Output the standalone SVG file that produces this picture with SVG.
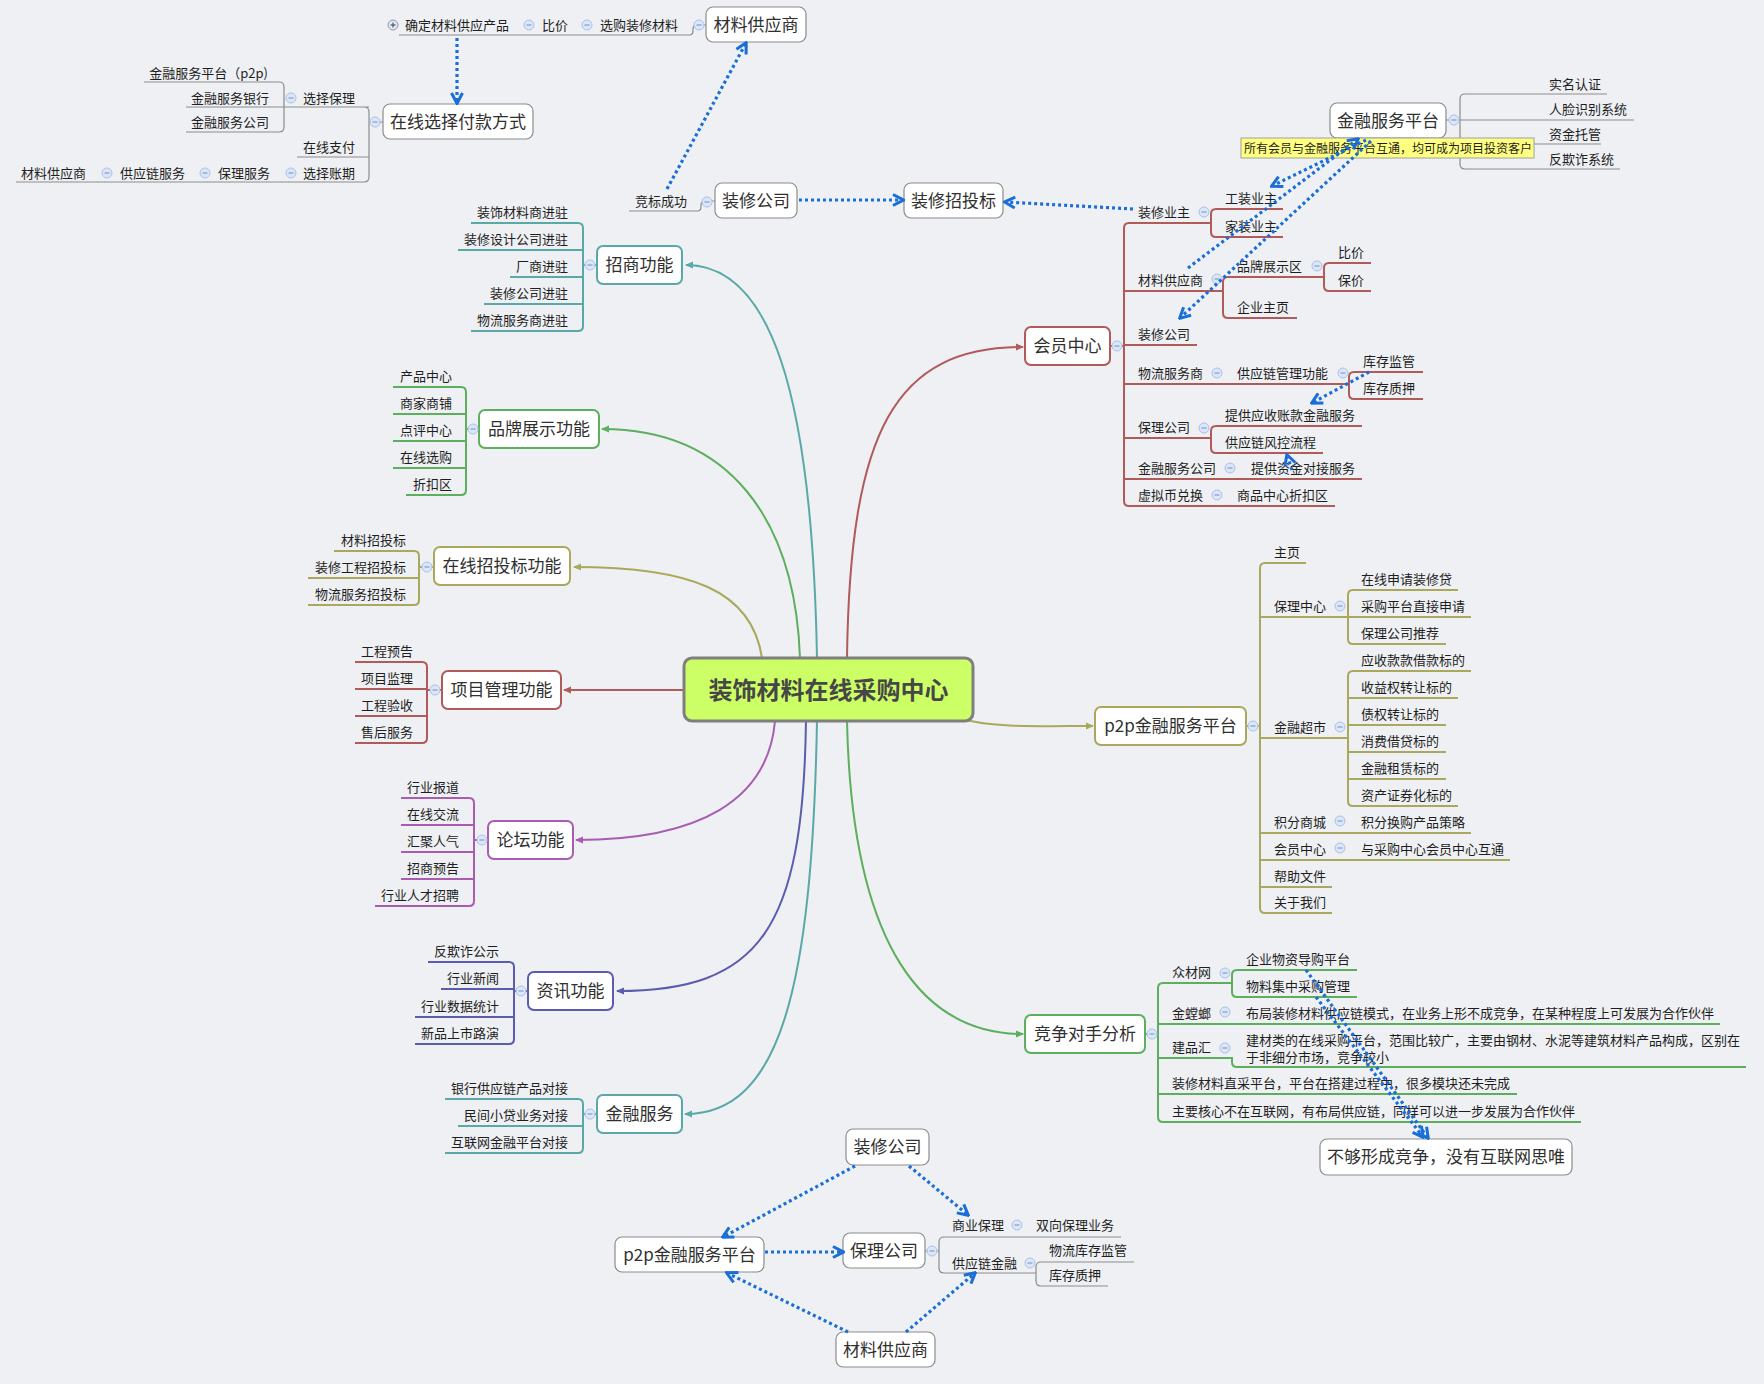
<svg xmlns="http://www.w3.org/2000/svg" width="1764" height="1384" viewBox="0 0 1764 1384">
<defs>
<style>
text{font-family:"Noto Sans CJK SC","Noto Sans",sans-serif;fill:#1e1e1e}
.s{font-size:13px}
.m{font-size:17px;fill:#303030}
.e{text-anchor:end}
.mid{text-anchor:middle}
.c{font-size:24px;font-weight:bold;fill:#474747}
.bx{fill:#fff;stroke-width:2}
.gb{fill:#fff;stroke:#8c8c8c;stroke-width:1.2}
.ln{fill:none;stroke-width:2}
.gl{fill:none;stroke:#8c8c8c;stroke-width:1.2}
.teal{stroke:#5aa9a7}.green{stroke:#5dae5d}.olive{stroke:#aaa85c}.red{stroke:#b05a5a}.purple{stroke:#a85db3}.blue{stroke:#5b5cae}
.dot{fill:none;stroke:#1a6ed8;stroke-width:3.2;stroke-dasharray:3 3;marker-end:url(#ad)}
</style>
<marker id="ad" markerUnits="userSpaceOnUse" markerWidth="14" markerHeight="14" viewBox="0 0 14 14" refX="12" refY="7" orient="auto"><path d="M2,1.5 L12.5,7 L2,12.5" fill="none" stroke="#1a6ed8" stroke-width="3"/></marker>
<marker id="mt" markerUnits="userSpaceOnUse" markerWidth="8" markerHeight="8" viewBox="0 0 8 8" refX="7" refY="4" orient="auto"><path d="M0,0.5 L8,4 L0,7.5z" fill="#5aa9a7"/></marker>
<marker id="mg" markerUnits="userSpaceOnUse" markerWidth="8" markerHeight="8" viewBox="0 0 8 8" refX="7" refY="4" orient="auto"><path d="M0,0.5 L8,4 L0,7.5z" fill="#5dae5d"/></marker>
<marker id="mo" markerUnits="userSpaceOnUse" markerWidth="8" markerHeight="8" viewBox="0 0 8 8" refX="7" refY="4" orient="auto"><path d="M0,0.5 L8,4 L0,7.5z" fill="#aaa85c"/></marker>
<marker id="mr" markerUnits="userSpaceOnUse" markerWidth="8" markerHeight="8" viewBox="0 0 8 8" refX="7" refY="4" orient="auto"><path d="M0,0.5 L8,4 L0,7.5z" fill="#b05a5a"/></marker>
<marker id="mp" markerUnits="userSpaceOnUse" markerWidth="8" markerHeight="8" viewBox="0 0 8 8" refX="7" refY="4" orient="auto"><path d="M0,0.5 L8,4 L0,7.5z" fill="#a85db3"/></marker>
<marker id="mb" markerUnits="userSpaceOnUse" markerWidth="8" markerHeight="8" viewBox="0 0 8 8" refX="7" refY="4" orient="auto"><path d="M0,0.5 L8,4 L0,7.5z" fill="#5b5cae"/></marker>
<g id="mi"><circle r="5" fill="#dce6f7" stroke="#a9c1e7" stroke-width="1"/><line x1="-2.5" y1="0" x2="2.5" y2="0" stroke="#7f9fd2" stroke-width="1.2"/></g>
<g id="pl"><circle r="5" fill="#e4e8f0" stroke="#8e9ab0" stroke-width="1"/><line x1="-2.5" y1="0" x2="2.5" y2="0" stroke="#4a5670" stroke-width="1.2"/><line x1="0" y1="-2.5" x2="0" y2="2.5" stroke="#4a5670" stroke-width="1.2"/></g>
</defs>
<rect width="1764" height="1384" fill="#eef0f3"/>

<g id="connectors">
<path class="ln teal" d="M817,658 C812,390 770,265 686,265" marker-end="url(#mt)"/>
<path class="ln green" d="M800,658 C795,520 730,429 602,429" marker-end="url(#mg)"/>
<path class="ln olive" d="M762,658 C752,590 690,567 574,567" marker-end="url(#mo)"/>
<path class="ln red" d="M684,690 L564,690" marker-end="url(#mr)"/>
<path class="ln red" d="M847,658 C850,430 895,347 1023,347" marker-end="url(#mr)"/>
<path class="ln olive" d="M962,719 C995,728 1040,726 1093,726" marker-end="url(#mo)"/>
<path class="ln purple" d="M775,721 C768,800 700,840 576,840" marker-end="url(#mp)"/>
<path class="ln blue" d="M806,721 C803,930 760,991 617,991" marker-end="url(#mb)"/>
<path class="ln teal" d="M817,721 C812,990 780,1114 685,1114" marker-end="url(#mt)"/>
<path class="ln green" d="M847,721 C852,950 925,1034 1023,1034" marker-end="url(#mg)"/>

<path class="ln teal" d="M471,223 L578,223 Q583,223 583,228 L583,326 Q583,331 578,331 L471,331 M583,250 L458,250 M583,277 L510,277 M583,304 L484,304 M597,265 L583,265"/>
<path class="ln green" d="M393,387 L461,387 Q466,387 466,392 L466,490 Q466,495 461,495 L406,495 M466,414 L393,414 M466,441 L393,441 M466,468 L393,468 M479,429 L466,429"/>
<path class="ln olive" d="M334,551 L414,551 Q419,551 419,556 L419,600 Q419,605 414,605 L308,605 M419,578 L308,578 M434,567 L419,567"/>
<path class="ln red" d="M355,662 L422,662 Q427,662 427,667 L427,738 Q427,743 422,743 L355,743 M427,689 L355,689 M427,716 L355,716 M442,690 L427,690"/>
<path class="ln purple" d="M401,798 L469,798 Q474,798 474,803 L474,901 Q474,906 469,906 L375,906 M474,825 L401,825 M474,852 L401,852 M474,879 L401,879 M488,840 L474,840"/>
<path class="ln blue" d="M428,962 L509,962 Q514,962 514,967 L514,1039 Q514,1044 509,1044 L415,1044 M514,989 L441,989 M514,1017 L415,1017 M528,991 L514,991"/>
<path class="ln teal" d="M445,1099 L578,1099 Q583,1099 583,1104 L583,1148 Q583,1153 578,1153 L445,1153 M583,1126 L458,1126 M597,1114 L583,1114"/>

<path class="ln red" d="M1211,223 L1129,223 Q1124,223 1124,228 L1124,501 Q1124,506 1129,506 L1335,506 M1124,291 L1223,291 M1124,345 L1197,345 M1124,384 L1349,384 M1124,438 L1211,438 M1124,479 L1362,479 M1110,346 L1124,346"/>
<path class="ln red" d="M1283,209 L1216,209 Q1211,209 1211,214 L1211,232 Q1211,237 1216,237 L1283,237"/>
<path class="ln red" d="M1324,277 L1228,277 Q1223,277 1223,282 L1223,313 Q1223,318 1228,318 L1297,318"/>
<path class="ln red" d="M1371,263 L1329,263 Q1324,263 1324,268 L1324,286 Q1324,291 1329,291 L1371,291"/>
<path class="ln red" d="M1423,372 L1354,372 Q1349,372 1349,377 L1349,394 Q1349,399 1354,399 L1423,399"/>
<path class="ln red" d="M1362,426 L1216,426 Q1211,426 1211,431 L1211,448 Q1211,453 1216,453 L1323,453"/>

<path class="ln olive" d="M1306,563 L1265,563 Q1260,563 1260,568 L1260,908 Q1260,913 1265,913 L1332,913 M1260,617 L1348,617 M1260,738 L1348,738 M1260,833 L1471,833 M1260,860 L1510,860 M1260,887 L1332,887 M1246,726 L1260,726"/>
<path class="ln olive" d="M1458,590 L1353,590 Q1348,590 1348,595 L1348,639 Q1348,644 1353,644 L1446,644 M1348,617 L1471,617"/>
<path class="ln olive" d="M1471,671 L1353,671 Q1348,671 1348,676 L1348,801 Q1348,806 1353,806 L1458,806 M1348,698 L1458,698 M1348,725 L1446,725 M1348,752 L1446,752 M1348,779 L1446,779"/>

<path class="ln green" d="M1232,983 L1163,983 Q1158,983 1158,988 L1158,1117 Q1158,1122 1163,1122 L1581,1122 M1158,1024 L1720,1024 M1158,1058 L1232,1058 L1232,1062 Q1232,1067 1237,1067 L1746,1067 M1158,1094 L1517,1094 M1145,1034 L1158,1034"/>
<path class="ln green" d="M1357,970 L1237,970 Q1232,970 1232,975 L1232,992 Q1232,997 1237,997 L1357,997"/>

<path class="gl" d="M383,122 L369,122 M364,107 Q369,107 369,112 L369,177 Q369,182 364,182 L16,182 M369,157 L297,157 M369,107 L186,107"/>
<path class="gl" d="M144,82 L279,82 Q284,82 284,87 L284,127 Q284,132 279,132 L186,132"/>
<path class="gl" d="M706,25 L697,25 Q693,25 693,29 L693,31 Q693,35 689,35 L399,35"/>
<path class="gl" d="M715,201 L705,201 Q701,201 701,205 L701,207 Q701,211 697,211 L629,211"/>
<path class="gl" d="M1446,120 L1634,120 M1607,94 L1465,94 Q1460,94 1460,99 L1460,164 Q1460,169 1465,169 L1620,169 M1460,144 L1601,144"/>
<path class="gl" d="M925,1251 L939,1251 M1121,1237 L944,1237 Q939,1237 939,1242 L939,1268 Q939,1273 944,1273 L1036,1273"/>
<path class="gl" d="M1134,1262 L1041,1262 Q1036,1262 1036,1267 L1036,1281 Q1036,1286 1041,1286 L1108,1286"/>
</g>

<g id="central"><rect x="684" y="658" width="289" height="63" rx="8" fill="#ccff66" stroke="#7f7f7f" stroke-width="3"/><text class="c mid" x="828.5" y="699">装饰材料在线采购中心</text></g>

<g id="zhaoshang"><rect class="bx teal" x="597" y="246" width="85" height="38" rx="6"/><text class="m mid" x="639.5" y="271">招商功能</text></g>
<g id="zs1"><text class="s e" x="568" y="217">装饰材料商进驻</text></g>
<g id="zs2"><text class="s e" x="568" y="244">装修设计公司进驻</text></g>
<g id="zs3"><text class="s e" x="568" y="271">厂商进驻</text></g>
<g id="zs4"><text class="s e" x="568" y="298">装修公司进驻</text></g>
<g id="zs5"><text class="s e" x="568" y="325">物流服务商进驻</text></g>

<g id="pinpai"><rect class="bx green" x="479" y="410" width="120" height="38" rx="6"/><text class="m mid" x="539" y="435">品牌展示功能</text></g>
<g id="pp1"><text class="s e" x="452" y="381">产品中心</text></g>
<g id="pp2"><text class="s e" x="452" y="408">商家商铺</text></g>
<g id="pp3"><text class="s e" x="452" y="435">点评中心</text></g>
<g id="pp4"><text class="s e" x="452" y="462">在线选购</text></g>
<g id="pp5"><text class="s e" x="452" y="489">折扣区</text></g>

<g id="zhaotoubiao"><rect class="bx olive" x="434" y="547" width="136" height="38" rx="6"/><text class="m mid" x="502" y="572">在线招投标功能</text></g>
<g id="zt1"><text class="s e" x="406" y="545">材料招投标</text></g>
<g id="zt2"><text class="s e" x="406" y="572">装修工程招投标</text></g>
<g id="zt3"><text class="s e" x="406" y="599">物流服务招投标</text></g>

<g id="xiangmu"><rect class="bx red" x="442" y="671" width="119" height="38" rx="6"/><text class="m mid" x="501.5" y="696">项目管理功能</text></g>
<g id="xm1"><text class="s e" x="413" y="656">工程预告</text></g>
<g id="xm2"><text class="s e" x="413" y="683">项目监理</text></g>
<g id="xm3"><text class="s e" x="413" y="710">工程验收</text></g>
<g id="xm4"><text class="s e" x="413" y="737">售后服务</text></g>

<g id="luntan"><rect class="bx purple" x="488" y="821" width="85" height="38" rx="6"/><text class="m mid" x="530.5" y="846">论坛功能</text></g>
<g id="lt1"><text class="s e" x="459" y="792">行业报道</text></g>
<g id="lt2"><text class="s e" x="459" y="819">在线交流</text></g>
<g id="lt3"><text class="s e" x="459" y="846">汇聚人气</text></g>
<g id="lt4"><text class="s e" x="459" y="873">招商预告</text></g>
<g id="lt5"><text class="s e" x="459" y="900">行业人才招聘</text></g>

<g id="zixun"><rect class="bx blue" x="528" y="972" width="85" height="38" rx="6"/><text class="m mid" x="570.5" y="997">资讯功能</text></g>
<g id="zx1"><text class="s e" x="499" y="956">反欺诈公示</text></g>
<g id="zx2"><text class="s e" x="499" y="983">行业新闻</text></g>
<g id="zx3"><text class="s e" x="499" y="1011">行业数据统计</text></g>
<g id="zx4"><text class="s e" x="499" y="1038">新品上市路演</text></g>

<g id="jinrongfuwu"><rect class="bx teal" x="597" y="1095" width="85" height="38" rx="6"/><text class="m mid" x="639.5" y="1120">金融服务</text></g>
<g id="jr1"><text class="s e" x="568" y="1093">银行供应链产品对接</text></g>
<g id="jr2"><text class="s e" x="568" y="1120">民间小贷业务对接</text></g>
<g id="jr3"><text class="s e" x="568" y="1147">互联网金融平台对接</text></g>

<g id="huiyuan"><rect class="bx red" x="1025" y="327" width="85" height="38" rx="6"/><text class="m mid" x="1067.5" y="352">会员中心</text></g>
<g id="hy1"><text class="s" x="1138" y="217">装修业主</text></g>
<g id="hy1a"><text class="s" x="1225" y="203">工装业主</text></g>
<g id="hy1b"><text class="s" x="1225" y="231">家装业主</text></g>
<g id="hy2"><text class="s" x="1138" y="285">材料供应商</text></g>
<g id="hy2a"><text class="s" x="1237" y="271">品牌展示区</text></g>
<g id="hy2a1"><text class="s" x="1338" y="257">比价</text></g>
<g id="hy2a2"><text class="s" x="1338" y="285">保价</text></g>
<g id="hy2b"><text class="s" x="1237" y="312">企业主页</text></g>
<g id="hy3"><text class="s" x="1138" y="339">装修公司</text></g>
<g id="hy4"><text class="s" x="1138" y="378">物流服务商</text></g>
<g id="hy4a"><text class="s" x="1237" y="378">供应链管理功能</text></g>
<g id="hy4a1"><text class="s" x="1363" y="366">库存监管</text></g>
<g id="hy4a2"><text class="s" x="1363" y="393">库存质押</text></g>
<g id="hy5"><text class="s" x="1138" y="432">保理公司</text></g>
<g id="hy5a"><text class="s" x="1225" y="420">提供应收账款金融服务</text></g>
<g id="hy5b"><text class="s" x="1225" y="447">供应链风控流程</text></g>
<g id="hy6"><text class="s" x="1138" y="473">金融服务公司</text></g>
<g id="hy6a"><text class="s" x="1251" y="473">提供资金对接服务</text></g>
<g id="hy7"><text class="s" x="1138" y="500">虚拟币兑换</text></g>
<g id="hy7a"><text class="s" x="1237" y="500">商品中心折扣区</text></g>

<g id="p2p"><rect class="bx olive" x="1095" y="707" width="151" height="38" rx="6"/><text class="m mid" x="1170.5" y="732">p2p金融服务平台</text></g>
<g id="pa1"><text class="s" x="1274" y="557">主页</text></g>
<g id="pa2"><text class="s" x="1274" y="611">保理中心</text></g>
<g id="pa2a"><text class="s" x="1361" y="584">在线申请装修贷</text></g>
<g id="pa2b"><text class="s" x="1361" y="611">采购平台直接申请</text></g>
<g id="pa2c"><text class="s" x="1361" y="638">保理公司推荐</text></g>
<g id="pa3"><text class="s" x="1274" y="732">金融超市</text></g>
<g id="pa3a"><text class="s" x="1361" y="665">应收款款借款标的</text></g>
<g id="pa3b"><text class="s" x="1361" y="692">收益权转让标的</text></g>
<g id="pa3c"><text class="s" x="1361" y="719">债权转让标的</text></g>
<g id="pa3d"><text class="s" x="1361" y="746">消费借贷标的</text></g>
<g id="pa3e"><text class="s" x="1361" y="773">金融租赁标的</text></g>
<g id="pa3f"><text class="s" x="1361" y="800">资产证券化标的</text></g>
<g id="pa4"><text class="s" x="1274" y="827">积分商城</text></g>
<g id="pa4a"><text class="s" x="1361" y="827">积分换购产品策略</text></g>
<g id="pa5"><text class="s" x="1274" y="854">会员中心</text></g>
<g id="pa5a"><text class="s" x="1361" y="854">与采购中心会员中心互通</text></g>
<g id="pa6"><text class="s" x="1274" y="881">帮助文件</text></g>
<g id="pa7"><text class="s" x="1274" y="907">关于我们</text></g>

<g id="jingzheng"><rect class="bx green" x="1025" y="1015" width="120" height="38" rx="6"/><text class="m mid" x="1085" y="1040">竞争对手分析</text></g>
<g id="jz1"><text class="s" x="1172" y="977">众材网</text></g>
<g id="jz1a"><text class="s" x="1246" y="964">企业物资导购平台</text></g>
<g id="jz1b"><text class="s" x="1246" y="991">物料集中采购管理</text></g>
<g id="jz2"><text class="s" x="1172" y="1018">金螳螂</text></g>
<g id="jz2a"><text class="s" x="1246" y="1018">布局装修材料供应链模式，在业务上形不成竞争，在某种程度上可发展为合作伙伴</text></g>
<g id="jz3"><text class="s" x="1172" y="1052">建品汇</text></g>
<g id="jz3a"><text class="s" x="1246" y="1045">建材类的在线采购平台，范围比较广，主要由钢材、水泥等建筑材料产品构成，区别在</text><text class="s" x="1246" y="1062">于非细分市场，竞争较小</text></g>
<g id="jz4"><text class="s" x="1172" y="1088">装修材料直采平台，平台在搭建过程中，很多模块还未完成</text></g>
<g id="jz5"><text class="s" x="1172" y="1116">主要核心不在互联网，有布局供应链，同样可以进一步发展为合作伙伴</text></g>
<g id="bugou"><rect class="gb" x="1320" y="1139" width="252" height="36" rx="7"/><text class="m mid" x="1446" y="1163">不够形成竞争，没有互联网思唯</text></g>

<g id="fukuan"><rect class="gb" x="383" y="104" width="150" height="35" rx="7"/><text class="m mid" x="458" y="128">在线选择付款方式</text></g>
<g id="fk1"><text class="s" x="303" y="103">选择保理</text></g>
<g id="fk1a"><text class="s e" x="268" y="78">金融服务平台（p2p)</text></g>
<g id="fk1b"><text class="s e" x="269" y="103">金融服务银行</text></g>
<g id="fk1c"><text class="s e" x="269" y="127">金融服务公司</text></g>
<g id="fk2"><text class="s" x="303" y="152">在线支付</text></g>
<g id="fk3"><text class="s" x="303" y="178">选择账期</text></g>
<g id="fk3a"><text class="s" x="218" y="178">保理服务</text></g>
<g id="fk3b"><text class="s" x="120" y="178">供应链服务</text></g>
<g id="fk3c"><text class="s" x="21" y="178">材料供应商</text></g>

<g id="gongying-top"><rect class="gb" x="706" y="7" width="100" height="35" rx="7"/><text class="m mid" x="756" y="31">材料供应商</text></g>
<g id="gy1"><text class="s" x="600" y="30">选购装修材料</text></g>
<g id="gy2"><text class="s" x="542" y="30">比价</text></g>
<g id="gy3"><text class="s" x="405" y="30">确定材料供应产品</text></g>

<g id="zhuangxiu-top"><rect class="gb" x="715" y="183" width="82" height="35" rx="7"/><text class="m mid" x="756" y="207">装修公司</text></g>
<g id="zx-win"><text class="s" x="635" y="206">竞标成功</text></g>
<g id="zhaobiao"><rect class="gb" x="904" y="183" width="99" height="35" rx="7"/><text class="m mid" x="953.5" y="207">装修招投标</text></g>

<g id="jinrongpt"><rect class="gb" x="1330" y="103" width="116" height="35" rx="7"/><text class="m mid" x="1388" y="127">金融服务平台</text></g>
<g id="jp1"><text class="s" x="1549" y="89">实名认证</text></g>
<g id="jp2"><text class="s" x="1549" y="114">人脸识别系统</text></g>
<g id="jp3"><text class="s" x="1549" y="139">资金托管</text></g>
<g id="jp4"><text class="s" x="1549" y="164">反欺诈系统</text></g>
<g id="callout"><rect x="1241" y="138" width="293" height="20" fill="#ffff80" stroke="#a0a0a0" stroke-width="1"/><text x="1244" y="153" style="font-size:12px">所有会员与金融服务平台互通，均可成为项目投资客户</text></g>

<g id="b-zhuangxiu"><rect class="gb" x="846" y="1129" width="83" height="36" rx="7"/><text class="m mid" x="887.5" y="1153">装修公司</text></g>
<g id="b-p2p"><rect class="gb" x="615" y="1237" width="149" height="35" rx="7"/><text class="m mid" x="689.5" y="1261">p2p金融服务平台</text></g>
<g id="b-baoli"><rect class="gb" x="843" y="1233" width="82" height="35" rx="7"/><text class="m mid" x="884" y="1257">保理公司</text></g>
<g id="b-gongying"><rect class="gb" x="836" y="1332" width="99" height="35" rx="7"/><text class="m mid" x="885.5" y="1356">材料供应商</text></g>
<g id="bb1"><text class="s" x="952" y="1230">商业保理</text></g>
<g id="bb1a"><text class="s" x="1036" y="1230">双向保理业务</text></g>
<g id="bb2"><text class="s" x="952" y="1268">供应链金融</text></g>
<g id="bb2a"><text class="s" x="1049" y="1255">物流库存监管</text></g>
<g id="bb2b"><text class="s" x="1049" y="1280">库存质押</text></g>

<g id="icons">
<use href="#mi" x="375" y="122"/><use href="#mi" x="291" y="98"/><use href="#mi" x="291" y="173"/><use href="#mi" x="205" y="173"/><use href="#mi" x="107" y="173"/>
<use href="#mi" x="699" y="25"/><use href="#mi" x="587" y="25"/><use href="#mi" x="529" y="25"/><use href="#pl" x="393" y="25"/>
<use href="#mi" x="707" y="202"/>
<use href="#mi" x="590" y="265"/><use href="#mi" x="473" y="429"/><use href="#mi" x="427" y="567"/><use href="#mi" x="435" y="690"/><use href="#mi" x="482" y="840"/><use href="#mi" x="521" y="991"/><use href="#mi" x="590" y="1114"/>
<use href="#mi" x="1117" y="346"/><use href="#mi" x="1204" y="212"/><use href="#mi" x="1217" y="279"/><use href="#mi" x="1317" y="266"/><use href="#mi" x="1217" y="373"/><use href="#mi" x="1343" y="373"/><use href="#mi" x="1204" y="428"/><use href="#mi" x="1230" y="468"/><use href="#mi" x="1217" y="495"/>
<use href="#mi" x="1454" y="120"/>
<use href="#mi" x="1253" y="726"/><use href="#mi" x="1340" y="606"/><use href="#mi" x="1340" y="727"/><use href="#mi" x="1340" y="821"/><use href="#mi" x="1340" y="848"/>
<use href="#mi" x="1152" y="1034"/><use href="#mi" x="1225" y="973"/><use href="#mi" x="1225" y="1012"/><use href="#mi" x="1225" y="1048"/>
<use href="#mi" x="932" y="1251"/><use href="#mi" x="1017" y="1225"/><use href="#mi" x="1030" y="1263"/>
</g>

<g id="relations">
<path class="dot" d="M457,38 L457,103"/>
<path class="dot" d="M667,189 L746,43"/>
<path class="dot" d="M799,200 L903,200"/>
<path class="dot" d="M1133,209 L1005,202"/>
<path class="dot" d="M1366,140 L1272,186"/>
<path class="dot" d="M1188,268 L1358,139"/>
<path class="dot" d="M1371,141 L1180,318"/>
<path class="dot" d="M1369,372 L1312,403"/>
<path class="dot" d="M1292,470 L1287,455"/>
<path class="dot" d="M1306,970 L1428,1138"/>
<path class="dot" d="M1316,997 L1423,1137"/>
<path class="dot" d="M855,1166 L723,1237"/>
<path class="dot" d="M909,1166 L968,1215"/>
<path class="dot" d="M765,1252 L843,1252"/>
<path class="dot" d="M848,1332 L727,1273"/>
<path class="dot" d="M906,1332 L975,1273"/>
</g>
</svg>
